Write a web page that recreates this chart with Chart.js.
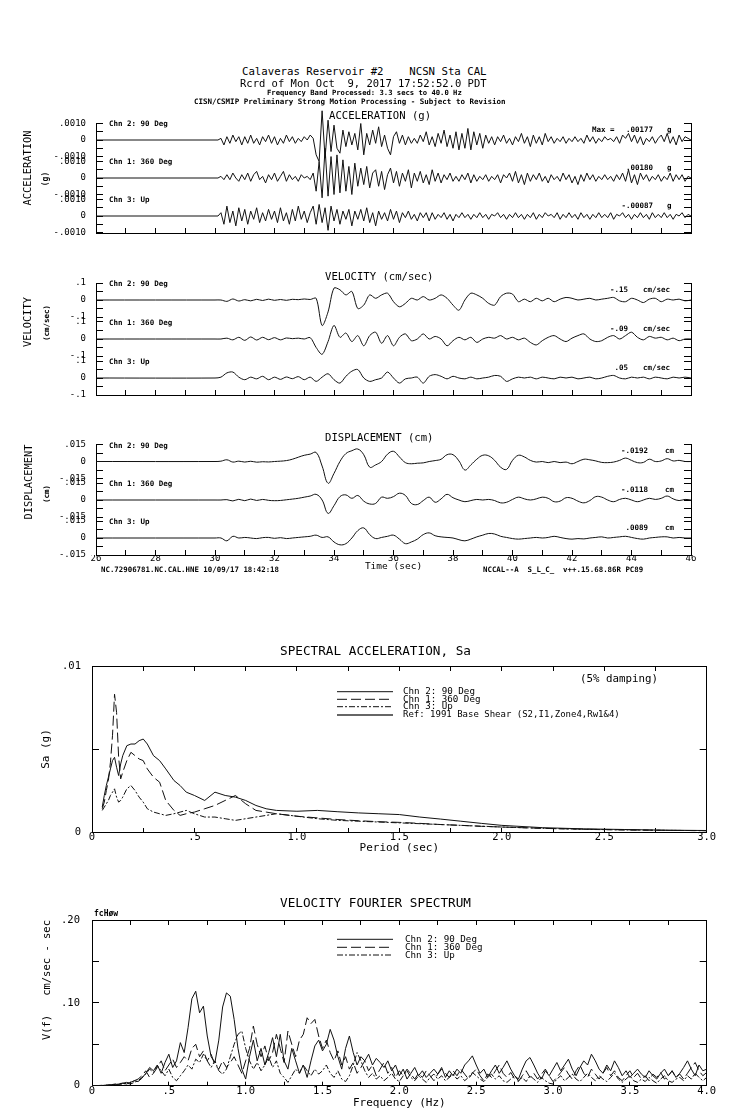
<!DOCTYPE html>
<html>
<head>
<meta charset="utf-8">
<title>Calaveras Reservoir #2 - CSMIP preliminary processing</title>
<script src="https://cdn.jsdelivr.net/npm/chart.js@4.4.1/dist/chart.umd.min.js"></script>
<style>
html,body{margin:0;padding:0;background:#fff;}
#page{position:relative;width:739px;height:1115px;overflow:hidden;background:#fff;}
#page canvas{position:absolute;left:0;}
.t{position:absolute;white-space:pre;line-height:1;font-family:"DejaVu Sans Mono",monospace;color:#000;}
.b{font-weight:bold;}
</style>
</head>
<body>
<div id="page"></div>
<script>
// ======================= DATA =======================
const channelNames = ['Chn 2: 90 Deg', 'Chn 1: 360 Deg', 'Chn 3: Up'];
const RECORD_START = 26;              // s : quiet pre-event part, trace value 0
const ACC_T0 = 30.0, ACC_DT = 0.1;     // acceleration read every 0.1 s from 30.0 s
const VD_T0 = 30.0, VD_DT = 0.2;       // velocity & displacement read every 0.2 s

// Acceleration (g)
const accChn2 = [
 0,0,.0001,-.0003,.0002,-.0002,.0003,-.0001,.0002,-.0003,
 .0002,-.0002,.0003,-.0002,.0001,-.0003,.0002,-.0001,.0003,-.0002,
 .0002,-.0003,.0001,-.0002,.0003,-.0001,.0002,-.0002,.0001,-.0001,
 .0002,0,.0003,.0001,-.0009,-.0013,.00177,-.0011,.0012,-.0007,
 .0009,-.0005,-.0008,.0006,-.0004,.0005,-.0003,.0004,-.0006,.0010,
 -.0009,.0004,-.0003,.0006,-.0002,.0008,-.0004,.0003,-.0005,-.0009,
 .0002,.0005,-.0002,.0003,-.0003,.0002,-.0002,.0001,-.0002,.0003,
 -.0001,.0005,-.0003,.0002,-.0004,.0004,-.0002,.0006,-.0004,.0003,
 -.0005,.0005,-.0006,.0004,-.0005,.0007,-.0006,.0005,-.0003,.0004,
 -.0005,.0003,-.0002,.0002,-.0003,.0002,-.0001,.0003,-.0002,.0001,
 -.0003,.0002,-.0001,.0004,-.0002,.0002,-.0004,.0003,-.0002,.0002,
 -.0003,.0004,-.0001,.0002,-.0002,.0001,-.0001,.0002,-.0002,.0001,
 -.0001,.0002,-.0001,.0001,-.0002,.0003,-.0001,.0002,-.0002,.0001,
 -.0001,.0002,0,.0001,-.0001,.0002,-.0002,.0003,.0001,.0004,
 -.0001,.0003,-.0002,.0002,-.0003,.0001,-.0001,.0002,-.0002,.0001,
 .0003,-.0001,.0004,-.0002,.0002,-.0003,.0003,-.0001,.0002,.0001,
 0];
const accChn1 = [
 0,0,.0001,-.0001,.0002,-.0001,.0003,0,-.0002,.0002,
 -.0001,.0003,-.0002,.0002,.0004,-.0001,.0001,-.0003,.0002,-.0001,
 .0003,-.0002,.0001,.0004,-.0002,.0002,-.0001,.0001,-.0002,.0002,
 0,.0001,-.0001,.0003,-.0008,.0010,-.0012,.0018,-.0011,.0013,
 -.0010,.0014,-.0009,.0011,-.0008,.0007,-.0010,.0009,-.0005,.0006,
 -.0004,.0007,-.0006,.0003,.0005,-.0005,.0004,-.0007,.0002,.0006,
 -.0003,.0004,-.0005,.0003,-.0002,.0005,-.0006,.0003,-.0002,.0004,
 -.0003,.0002,-.0004,.0005,-.0002,.0003,-.0003,.0002,-.0001,.0003,
 -.0002,.0001,-.0002,.0002,-.0001,.0003,-.0003,.0002,-.0002,.0001,
 -.0001,.0002,-.0002,.0001,-.0001,.0002,-.0003,.0002,0,.0003,
 -.0002,.0004,-.0003,.0002,-.0004,.0003,-.0002,.0002,-.0001,.0003,
 -.0002,.0001,-.0003,.0002,-.0001,.0001,-.0002,.0003,-.0001,.0002,
 -.0003,.0001,-.0004,.0002,-.0002,.0003,-.0001,.0002,-.0002,.0001,
 -.0001,.0002,-.0001,.0001,-.0002,.0002,-.0001,.0003,-.0002,.0005,
 -.0003,.0002,-.0004,.0003,-.0001,.0002,-.0002,.0001,-.0001,.0002,
 -.0002,.0001,-.0001,.0003,-.0002,.0002,-.0001,.0002,-.0002,.0001,
 0];
const accChn3 = [
 0,0,.0002,-.0005,.0006,-.0004,.0003,-.0006,.0005,-.0003,
 .0004,-.0005,.0003,-.0002,.0005,-.0004,.0002,-.0003,.0004,-.0002,
 .0003,-.0004,.0005,-.0003,.0002,-.0005,.0004,-.0003,.0006,-.0002,
 .0003,-.0004,.0002,.0006,-.0005,.0007,-.0004,.0005,-.00087,.0006,
 -.0003,.0004,-.0005,.0003,-.0002,.0004,-.0006,.0003,-.0002,.0004,
 -.0003,.0005,-.0004,.0002,-.0006,.0003,-.0002,.0002,-.0003,.0004,
 -.0002,.0003,-.0004,.0002,-.0001,.0003,-.0002,.0001,-.0003,.0002,
 -.0001,.0002,-.0003,.0002,-.0002,.0001,-.0001,.0002,-.0002,.0001,
 -.0003,.0001,-.0001,.0002,-.0001,.0001,-.0002,.0001,-.0001,.0002,
 -.0001,.0001,-.0002,.0001,0,.0002,-.0001,.0001,-.0002,.0001,
 -.0001,.0002,-.0001,.0001,-.0002,.0001,-.0001,.0002,-.0002,.0001,
 -.0001,.0002,0,.0001,-.0001,.0002,-.0002,.0001,-.0001,.0002,
 -.0001,.0001,-.0002,.0002,-.0001,.0001,-.0002,.0001,-.0001,.0002,
 -.0001,.0001,-.0001,.0002,-.0002,.0001,0,.0002,-.0001,.0001,
 -.0002,.0001,-.0001,.0002,-.0001,.0001,-.0002,.0002,-.0001,.0001,
 -.0001,.0002,-.0001,.0001,-.0002,.0001,0,.0002,-.0001,.0001,
 0];

// Velocity (cm/sec)
const velChn2 = [
 0,0,-.008,.006,-.006,.002,-.005,.004,-.003,.005,
 -.002,.003,-.002,.004,.002,.006,.003,.01,-.15,-.07,
 .07,.06,.03,.05,-.05,-.03,.03,.01,.03,.04,
 -.01,-.04,-.02,.01,0,.02,0,.01,.03,.01,
 -.03,-.06,0,.04,.03,.01,-.02,-.03,.02,.04,
 .035,-.01,.005,-.01,.01,-.005,.01,-.01,.005,.015,
 .01,0,.005,.01,0,.005,.01,.015,-.005,-.01,
 .01,0,-.015,.005,.01,-.01,.005,0,.005,-.005,
 0];
const velChn1 = [
 0,0,.005,-.005,.01,-.008,.012,-.006,.01,-.004,
 .008,-.005,.006,.002,.005,0,.008,-.05,-.09,-.015,
 .08,.01,.035,-.015,.02,-.04,.02,.04,-.025,.02,
 -.04,.01,.03,-.01,0,.03,0,.015,0,-.04,
 -.01,.01,-.005,.01,-.02,0,.01,.005,.02,0,
 .01,-.005,.005,-.02,-.035,-.01,.01,.02,0,-.015,
 .005,.02,.03,0,-.015,-.01,.01,.02,0,.02,
 .04,.01,-.005,.015,.005,.01,-.005,.005,-.01,0,
 0];
const velChn3 = [
 0,.005,.03,.035,.005,-.01,.005,-.005,.01,-.01,
 .005,-.008,.006,-.004,.008,-.01,.005,-.02,.005,.025,
 -.01,-.03,.01,.04,.05,0,-.02,-.01,0,.035,
 0,-.03,-.005,0,.005,-.03,.01,.02,.01,-.005,
 .01,0,-.005,.005,-.005,0,.005,.015,.01,-.02,
 -.005,.005,0,.005,-.005,.005,0,-.005,.005,0,
 .005,-.005,0,.005,-.005,0,.01,.015,0,-.005,
 .005,0,.005,-.005,.005,0,-.005,.005,0,.005,
 0];

// Displacement (cm)
const dispChn2 = [
 0,.0003,.0015,-.0005,.0003,-.0005,.0002,-.0006,-.0002,-.0004,
 0,.0003,.0008,.002,.0038,.0055,.0065,.008,-.004,-.0192,
 -.0105,0,.007,.0095,.011,.006,-.005,-.003,0,.0065,
 .009,.004,-.001,-.002,-.0015,-.0012,0,.0008,.002,.006,
 .006,.0005,-.0075,-.003,.002,.0055,.005,.001,-.005,-.007,
 .001,.0055,.004,.001,-.0005,0,-.001,0,-.001,-.0005,
 -.002,0,.002,.0015,.0005,-.0008,-.001,-.0005,.001,.003,
 .001,-.001,-.0008,.002,0,.0005,.0025,.0005,.001,0,
 0];
const dispChn1 = [
 0,0,.0003,-.0008,.0006,-.0006,.0008,-.0004,.0005,-.0003,
 -.0006,-.0004,.0002,.0008,.0015,.0025,.0035,.005,0,-.0118,
 -.005,.003,.0045,.0015,.004,-.001,-.0035,-.003,.0025,.0015,
 .003,.006,.004,-.003,-.004,-.0005,.0025,-.002,.001,.005,
 .002,0,-.0015,-.0005,.0005,0,.0005,-.0005,-.0025,-.002,
 .0005,.0025,.001,0,.001,.0025,.0015,-.0015,-.001,.002,
 .0015,-.001,-.0025,-.0005,.003,.0025,0,-.0015,.0005,.0015,
 0,-.0015,0,.0015,.0005,.0015,.0035,.001,-.0005,.0005,
 0];
const dispChn3 = [
 0,0,-.0025,.0015,0,.0005,0,-.0005,.0003,.0005,
 -.0003,.0003,-.0005,0,.0005,.001,.0015,.0025,.0005,.001,
 -.0035,-.006,-.005,0,.0065,.0089,.003,-.0005,.0005,.0015,
 .0025,-.001,-.005,-.0035,-.001,.003,.0045,.002,.001,.0005,
 0,-.0015,-.0025,-.001,.001,.0025,.004,.0035,.0015,.0005,
 -.0005,-.001,-.0005,0,.0005,0,.0005,.0015,.0005,-.0005,
 -.001,-.0005,-.0008,0,.0005,.001,0,.0005,.001,.0015,
 .0005,-.0005,-.001,0,.0005,.001,.001,0,.0005,0,
 0];

const accPeakLabels  = ['.00177', '.00180', '-.00087'];
const velPeakLabels  = ['-.15', '-.09', '.05'];
const dispPeakLabels = ['-.0192', '-.0118', '.0089'];

// Spectral acceleration, 5% damping (period s, Sa g)
const saPeriod = [0.05,0.06,0.07,0.08,0.09,0.10,0.11,0.12,0.13,0.14,0.15,0.17,0.19,0.21,0.23,0.25,0.27,0.30,0.33,0.36,0.40,0.43,0.46,0.50,0.55,0.60,0.65,0.70,0.75,0.80,0.85,0.90,1.0,1.1,1.2,1.3,1.4,1.5,1.6,1.7,1.8,1.9,2.0,2.2,2.4,2.6,2.8,3.0];
const saChn2 = [.0015,.0022,.0028,.0033,.0038,.0043,.0045,.0039,.0034,.0041,.0046,.0052,.0053,.0053,.0055,.0056,.0053,.0046,.0043,.0038,.0031,.0028,.0024,.0022,.0019,.0024,.0022,.0021,.0019,.0016,.0014,.0013,.00125,.0013,.00122,.00115,.0011,.00105,.0009,.00078,.00065,.00052,.0004,.00026,.00019,.00015,.00011,.00009];
const saChn1 = [.0014,.0018,.0025,.0031,.0042,.0058,.0083,.0072,.0045,.0032,.0036,.0043,.0048,.0046,.0044,.0043,.0038,.0033,.0030,.0019,.0013,.0010,.0011,.0012,.0014,.0016,.0019,.0022,.0017,.0013,.0012,.0011,.00095,.00085,.00075,.00068,.00062,.00058,.00052,.00045,.0004,.00034,.0003,.00022,.00017,.00013,.0001,.00008];
const saChn3 = [.0013,.0015,.0017,.0019,.0022,.0024,.0026,.0021,.0018,.0019,.0021,.0026,.0028,.0025,.0021,.0018,.0014,.0012,.0011,.0010,.0011,.0012,.0013,.0011,.0009,.0009,.0008,.0007,.0008,.0009,.0010,.0011,.00095,.0008,.0007,.00065,.0006,.00055,.0005,.00045,.0004,.00035,.0003,.00022,.00016,.00012,.0001,.00008];

// Velocity Fourier spectrum (cm/sec - sec), read every 0.025 Hz from 0 Hz
const FREQ_STEP = 0.025;
const fourierChn2 = [
 0,0,.0002,.0004,.0006,.001,.0015,.002,
 .003,.002,.004,.006,.005,.009,.015,.022,
 .018,.025,.015,.028,.038,.022,.030,.052,
 .040,.070,.105,.114,.088,.096,.060,.035,
 .028,.055,.095,.112,.108,.080,.045,.020,
 .008,.035,.055,.030,.045,.025,.040,.058,
 .035,.062,.030,.020,.045,.030,.015,.025,
 .010,.030,.048,.055,.042,.050,.068,.055,
 .035,.020,.045,.060,.040,.025,.035,.030,
 .038,.025,.033,.028,.022,.030,.018,.025,
 .012,.020,.008,.015,.022,.012,.018,.010,
 .015,.020,.014,.022,.010,.018,.012,.020,
 .015,.025,.030,.036,.025,.015,.020,.010,
 .018,.025,.015,.022,.030,.020,.012,.008,
 .020,.030,.034,.025,.015,.008,.018,.012,
 .020,.028,.018,.025,.032,.020,.012,.022,
 .030,.025,.038,.030,.020,.015,.025,.018,
 .030,.022,.012,.018,.010,.015,.020,.014,
 .010,.018,.012,.008,.015,.020,.012,.018,
 .010,.015,.022,.030,.020,.012,.025,.018,
 .020];
const fourierChn1 = [
 0,0,.0003,.0005,.0008,.0012,.002,.0025,
 .003,.004,.003,.006,.008,.012,.018,.010,
 .015,.022,.030,.018,.025,.032,.022,.028,
 .035,.030,.045,.050,.035,.042,.030,.038,
 .025,.020,.030,.022,.028,.035,.025,.015,
 .030,.045,.072,.050,.035,.048,.030,.040,
 .062,.045,.028,.066,.050,.035,.055,.062,
 .082,.075,.080,.060,.045,.055,.040,.030,
 .042,.025,.035,.020,.028,.015,.022,.030,
 .018,.025,.012,.020,.028,.015,.022,.010,
 .018,.012,.020,.014,.008,.015,.010,.018,
 .012,.006,.014,.020,.015,.010,.018,.012,
 .020,.014,.008,.015,.020,.012,.006,.014,
 .010,.018,.025,.015,.010,.016,.008,.005,
 .012,.018,.010,.015,.008,.014,.020,.012,
 .005,.010,.016,.022,.014,.008,.018,.025,
 .015,.010,.020,.014,.008,.015,.022,.012,
 .018,.010,.006,.012,.018,.010,.015,.008,
 .012,.006,.014,.010,.016,.008,.012,.018,
 .010,.014,.008,.015,.022,.028,.018,.012,
 .016];
const fourierChn3 = [
 0,0,.0002,.0003,.0005,.0008,.001,.0015,
 .002,.003,.002,.004,.006,.010,.014,.020,
 .016,.024,.018,.012,.020,.010,.006,.012,
 .018,.025,.020,.032,.028,.038,.030,.022,
 .030,.018,.014,.020,.035,.050,.062,.066,
 .045,.030,.020,.028,.018,.025,.035,.022,
 .030,.015,.010,.004,.012,.020,.015,.025,
 .018,.012,.020,.014,.018,.025,.015,.010,
 .018,.008,.005,.012,.025,.040,.030,.018,
 .010,.015,.008,.012,.006,.010,.015,.008,
 .005,.012,.018,.010,.006,.012,.008,.004,
 .010,.014,.008,.012,.006,.010,.014,.008,
 .012,.006,.010,.016,.012,.008,.005,.010,
 .014,.008,.012,.006,.004,.008,.012,.006,
 .010,.005,.012,.008,.004,.010,.006,.003,
 .002,.008,.012,.006,.010,.014,.008,.005,
 .010,.015,.010,.006,.012,.008,.005,.010,
 .015,.008,.004,.008,.012,.006,.004,.008,
 .005,.010,.006,.003,.008,.012,.006,.004,
 .008,.010,.006,.012,.008,.015,.010,.006,
 .010];

// Tick labels
const timeTickLabels   = ['26','28','30','32','34','36','38','40','42','44','46'];
const accTickLabels    = ['-.0010','0','.0010'];
const velTickLabels    = ['-.1','0','.1'];
const dispTickLabels   = ['-.015','0','.015'];
const periodTickLabels = ['0','.5','1.0','1.5','2.0','2.5','3.0'];
const saTickLabels     = ['0','.01'];
const freqTickLabels   = ['0','.5','1.0','1.5','2.0','2.5','3.0','3.5','4.0'];
const fourierTickLabels= ['0','.10','.20'];

// ======================= RENDERING =======================
const page = document.getElementById('page');
Chart.defaults.font.family = '"DejaVu Sans Mono", monospace';
Chart.defaults.color = '#000';

function makeCanvas(top, h) {
  const c = document.createElement('canvas');
  c.width = 739; c.height = h;
  c.style.top = top + 'px'; c.style.width = '739px'; c.style.height = h + 'px';
  page.appendChild(c);
  return c;
}
function txt(s, x, cy, fs, o) {
  o = o || {};
  const d = document.createElement('div');
  d.className = 't' + (o.bold ? ' b' : '');
  d.textContent = s;
  d.style.fontSize = fs + 'px';
  d.style.left = x + 'px';
  if (o.rot) {
    d.style.top = cy + 'px';
    d.style.transform = 'translate(-50%,-50%) rotate(-90deg)';
  } else {
    d.style.top = (cy - 0.5 * fs) + 'px';
    if (o.align === 'right') d.style.transform = 'translateX(-100%)';
    else if (o.align === 'center') d.style.transform = 'translateX(-50%)';
  }
  page.appendChild(d);
}
function labelAt(v, step, labels) {
  const k = v / step, r = Math.round(k);
  return (Math.abs(k - r) < 1e-6 && labels[r] !== undefined) ? labels[r] : '';
}

const lineStyles = [
  {color: '#111', width: 1, dash: []},
  {color: '#111', width: 1, dash: [10, 4]},
  {color: '#111', width: 1, dash: [6, 2, 2, 2]}
];
const refStyle = {color: '#666', width: 2, dash: []};

// ---------- time-series panels ----------
const panels = [
  {zeros: [140, 178, 216], bottom: 233, unitPx: 16.5, unit: .001, tickLabels: accTickLabels,
   series: [accChn2, accChn1, accChn3], t0: ACC_T0, dt: ACC_DT, tension: 0, xLabels: false, xAxisH: 10},
  {zeros: [300, 339, 378], bottom: 395, unitPx: 17, unit: .1, tickLabels: velTickLabels,
   series: [velChn2, velChn1, velChn3], t0: VD_T0, dt: VD_DT, tension: .3, xLabels: false, xAxisH: 10},
  {zeros: [461.5, 500, 538], bottom: 555, unitPx: 17, unit: .015, tickLabels: dispTickLabels,
   series: [dispChn2, dispChn1, dispChn3], t0: VD_T0, dt: VD_DT, tension: .4, xLabels: true, xAxisH: 30}
];

function traceChart(p, k) {
  const zero = p.zeros[k];
  const slotTop = k === 0 ? zero - p.unitPx : (p.zeros[k - 1] + zero) / 2;
  const slotBot = k === 2 ? p.bottom : (zero + p.zeros[k + 1]) / 2;
  const isBottom = k === 2;
  const XH = isBottom ? p.xAxisH : 0;
  const cTop = Math.floor(slotTop - 40);
  const cH = Math.ceil(slotBot + XH + 40) - cTop;
  const padTop = slotTop - cTop;
  const padBot = cH - (slotBot - cTop) - XH;
  const canvas = makeCanvas(cTop, cH);
  const yMax = (zero - slotTop) / p.unitPx * p.unit;
  const yMin = -(slotBot - zero) / p.unitPx * p.unit;
  const tickVals = [-p.unit, -p.unit / 2, 0, p.unit / 2, p.unit];
  const setTicks = s => { s.ticks = tickVals.filter(v => v >= yMin - 1e-12 && v <= yMax + 1e-12).map(v => ({value: v})); };
  const vals = p.series[k];
  const data = [{x: RECORD_START, y: 0}].concat(vals.map((v, i) => ({x: p.t0 + i * p.dt, y: v})));
  const grid = {display: true, drawOnChartArea: false, drawTicks: true, tickLength: -7, color: '#000', tickColor: '#000', tickWidth: 1};
  const border = {display: true, color: '#000', width: 1};
  new Chart(canvas, {
    type: 'line',
    data: {datasets: [{label: channelNames[k], data, borderColor: '#111', borderWidth: 1, pointRadius: 0, tension: p.tension, clip: false}]},
    options: {
      responsive: false, animation: false, events: [],
      plugins: {legend: {display: false}, tooltip: {enabled: false}},
      layout: {padding: {top: padTop, bottom: padBot, left: 0, right: 0}},
      scales: {
        x: {type: 'linear', min: 26, max: 46, display: isBottom,
            ticks: {stepSize: 1, autoSkip: false, maxRotation: 0, display: isBottom && p.xLabels, padding: 3.6, font: {size: 9},
                    callback: v => labelAt(v - 26, 2, timeTickLabels)},
            grid: Object.assign({}, grid, {tickLength: -5}), border,
            title: {display: isBottom && p.xLabels, text: 'Time (sec)', font: {size: 9.5}, padding: {top: 0, bottom: 12.3}},
            afterFit: s => { s.height = XH; }},
        y: {type: 'linear', position: 'left', min: yMin, max: yMax, afterBuildTicks: setTicks,
            ticks: {autoSkip: false, padding: 17, font: {size: 9}, callback: v => labelAt(v + p.unit, p.unit, p.tickLabels)},
            grid, border, afterFit: s => { s.width = 96; }},
        y2: {type: 'linear', position: 'right', min: yMin, max: yMax, afterBuildTicks: setTicks,
             ticks: {display: false}, grid, border, afterFit: s => { s.width = 739 - 691; }}
      }
    }
  });
}
panels.forEach(p => { for (let k = 0; k < 3; k++) traceChart(p, k); });

// ---------- spectra ----------
function legendLines(canvasTop, x1, x2, rows) {
  return {id: 'legendLines', afterDraw(chart) {
    const ctx = chart.ctx;
    rows.forEach(r => {
      ctx.save();
      ctx.strokeStyle = r.style.color; ctx.lineWidth = r.style.width; ctx.setLineDash(r.style.dash);
      ctx.beginPath(); ctx.moveTo(x1, r.y - canvasTop); ctx.lineTo(x2, r.y - canvasTop); ctx.stroke();
      ctx.restore();
    });
  }};
}
function spectrum(o) {
  const c = makeCanvas(o.top, o.height);
  const ds = o.series.map((vals, i) => ({
    label: channelNames[i], data: vals.map((v, j) => ({x: o.xs[j], y: v})),
    borderColor: lineStyles[i].color, borderWidth: lineStyles[i].width, borderDash: lineStyles[i].dash,
    pointRadius: 0, tension: 0}));
  const grid = {display: true, drawOnChartArea: false, drawTicks: true, color: '#000', tickColor: '#000'};
  const border = {display: true, color: '#000', width: 1};
  new Chart(c, {
    type: 'line', data: {datasets: ds},
    plugins: [legendLines(o.top, 337, 393, o.legend)],
    options: {
      responsive: false, animation: false, events: [],
      plugins: {legend: {display: false}, tooltip: {enabled: false}},
      layout: {padding: {top: o.padTop, bottom: o.padBottom, left: 0, right: 0}},
      scales: {
        x: {type: 'linear', position: 'bottom', min: o.xMin, max: o.xMax,
            ticks: {stepSize: .25, maxTicksLimit: 100, autoSkip: false, maxRotation: 0, padding: o.xLabelPad, font: {size: 10.5}, callback: v => labelAt(v, .5, o.xLabels)},
            grid: Object.assign({}, grid, {tickLength: -4}), border,
            title: {display: true, text: o.xTitle, font: {size: 11}, padding: {top: 0, bottom: o.xTitlePad}},
            afterFit: s => { s.height = o.xHeight; }},
        xTop: {type: 'linear', position: 'top', min: o.xMin, max: o.xMax,
            ticks: {stepSize: .25, maxTicksLimit: 100, display: false},
            grid: Object.assign({}, grid, {tickLength: -5}), border, afterFit: s => { s.height = 0; }},
        y: {type: 'linear', position: 'left', min: 0, max: o.yMax,
            ticks: {stepSize: o.yStep, autoSkip: false, padding: o.yLabelPad, font: {size: 10.5}, callback: v => labelAt(v, o.yLabelStep, o.yLabels)},
            grid: Object.assign({}, grid, {tickLength: -7}), border,
            title: {display: true, text: o.yTitle, align: o.yTitleAlign, font: {size: o.yTitleSize}, padding: {top: o.yTitlePad, bottom: 0}},
            afterFit: s => { s.width = 92; }},
        yRight: {type: 'linear', position: 'right', min: 0, max: o.yMax,
            ticks: {stepSize: o.yStep, display: false},
            grid: Object.assign({}, grid, {tickLength: -7}), border, afterFit: s => { s.width = 739 - 706.7; }}
      }
    }
  });
}

spectrum({
  top: 600, height: 270, padTop: 66, padBottom: 14, xHeight: 24,
  xs: saPeriod, series: [saChn2, saChn1, saChn3],
  xMin: 0, xMax: 3, xLabels: periodTickLabels, xLabelPad: 2.7, xTitle: 'Period (sec)', xTitlePad: 1.4,
  yMax: .01, yStep: .005, yLabelStep: .01, yLabels: saTickLabels, yLabelPad: 18,
  yTitle: 'Sa (g)', yTitleAlign: 'center', yTitleSize: 11, yTitlePad: 40,
  legend: [{y: 691.7, style: lineStyles[0]}, {y: 699.3, style: lineStyles[1]}, {y: 706.7, style: lineStyles[2]}, {y: 715, style: refStyle}]
});
spectrum({
  top: 880, height: 235, padTop: 40, padBottom: 4.3, xHeight: 25,
  xs: fourierChn2.map((_, i) => i * FREQ_STEP), series: [fourierChn2, fourierChn1, fourierChn3],
  xMin: 0, xMax: 4, xLabels: freqTickLabels, xLabelPad: 3.7, xTitle: 'Frequency (Hz)', xTitlePad: 1.1,
  yMax: .2, yStep: .05, yLabelStep: .1, yLabels: fourierTickLabels, yLabelPad: 19,
  yTitle: 'V(f)   cm/sec - sec', yTitleAlign: 'end', yTitleSize: 10.5, yTitlePad: 40.7,
  legend: [{y: 939.3, style: lineStyles[0]}, {y: 947.3, style: lineStyles[1]}, {y: 955, style: lineStyles[2]}]
});

// ---------- texts ----------
txt('Calaveras Reservoir #2    NCSN Sta CAL', 242, 72.5, 10.7);
txt('Rcrd of Mon Oct  9, 2017 17:52:52.0 PDT', 240, 83, 10.5);
txt('Frequency Band Processed: 3.3 secs to 40.0 Hz', 267, 92.5, 7.2, {bold: true});
txt('CISN/CSMIP Preliminary Strong Motion Processing - Subject to Revision', 194, 101.5, 7.5, {bold: true});

txt('ACCELERATION (g)', 329, 115, 10.6);
txt('VELOCITY (cm/sec)', 325, 276.5, 10.6);
txt('DISPLACEMENT (cm)', 325, 437, 10.6);

txt('ACCELERATION', 27, 168, 10.4, {rot: true});
txt('(g)', 46, 179, 8, {rot: true, bold: true});
txt('VELOCITY', 26.5, 322, 10.4, {rot: true});
txt('(cm/sec)', 46.5, 323, 7.5, {rot: true, bold: true});
txt('DISPLACEMENT', 28, 482, 10.4, {rot: true});
txt('(cm)', 46.5, 494, 7.5, {rot: true, bold: true});

const peakSets = [
  {labels: accPeakLabels, unit: 'g', valRight: 653, unitLeft: 667},
  {labels: velPeakLabels, unit: 'cm/sec', valRight: 628, unitLeft: 643},
  {labels: dispPeakLabels, unit: 'cm', valRight: 648, unitLeft: 665}
];
panels.forEach((p, pi) => {
  for (let k = 0; k < 3; k++) {
    const z = p.zeros[k];
    txt(channelNames[k], 109, z - 16, 7.5, {bold: true});
    txt(peakSets[pi].labels[k], peakSets[pi].valRight, z - 10.5, 7.5, {bold: true, align: 'right'});
    txt(peakSets[pi].unit, peakSets[pi].unitLeft, z - 10.5, 7.5, {bold: true});
  }
});
txt('Max =', 592, 129.5, 7.5, {bold: true});

txt('NC.72906781.NC.CAL.HNE 10/09/17 18:42:18', 101, 570, 7.4, {bold: true});
txt('NCCAL--A  S_L_C_  v++.15.68.86R PC89', 483, 570, 7.4, {bold: true});

txt('SPECTRAL ACCELERATION, Sa', 280, 651, 12.7);
txt('(5% damping)', 580, 679.5, 10.8);
txt(channelNames[0], 403, 690.7, 9.2);
txt(channelNames[1], 403, 698.7, 9.2);
txt(channelNames[2], 403, 705.7, 9.2);
txt('Ref: 1991 Base Shear (S2,I1,Zone4,Rw1&4)', 403, 714, 9);

txt('VELOCITY FOURIER SPECTRUM', 280, 903.3, 12.7);
txt('fcHøw', 94, 914, 8, {bold: true});
txt(channelNames[0], 405, 938.3, 9.2);
txt(channelNames[1], 405, 946.7, 9.2);
txt(channelNames[2], 405, 954.3, 9.2);
</script>
</body>
</html>
